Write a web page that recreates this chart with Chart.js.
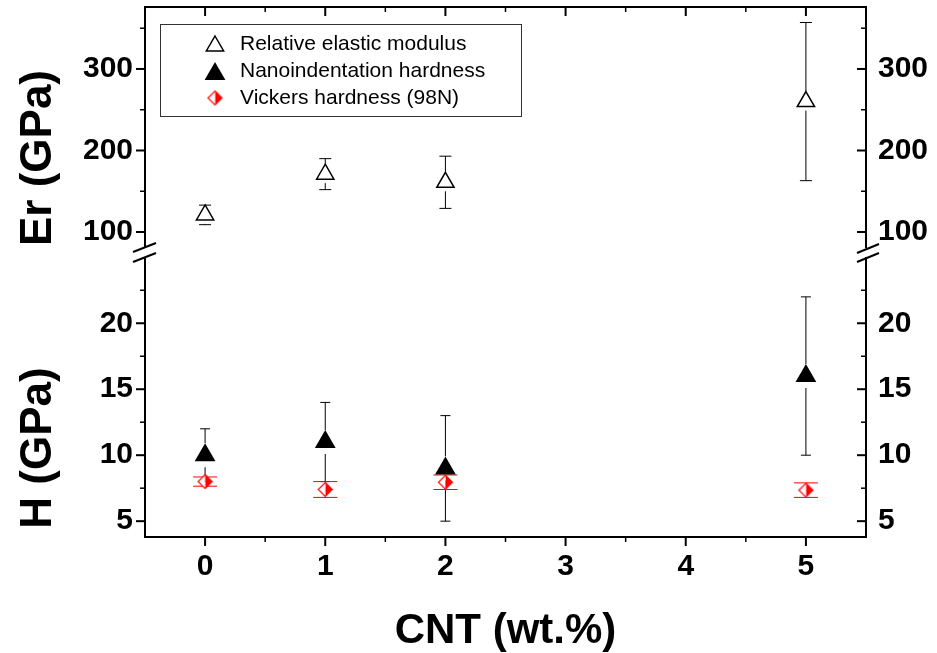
<!DOCTYPE html>
<html>
<head>
<meta charset="utf-8">
<script src="https://cdn.jsdelivr.net/npm/chart.js@4.4.0/dist/chart.umd.min.js"></script>
<style>
  html, body { margin: 0; padding: 0; background: #fff; }
</style>
</head>
<body>
<canvas id="chart" width="937" height="653"></canvas>
<script>
// data
const cnt = [0, 1, 2, 5];
const erValues = [121, 171, 161, 260];
const erErrors = [12, 19, 32, 97];
const hValues = [10, 11, 9, 16];
const hErrors = [2, 3, 4, 6];
const hvValues = [8.0, 7.4, 7.95, 7.35];
const hvErrors = [0.35, 0.6, 0.55, 0.55];

const seriesNames = ['Relative elastic modulus', 'Nanoindentation hardness', 'Vickers hardness (98N)'];
const xTicks = [0, 1, 2, 3, 4, 5];
const xMinor = [0.5, 1.5, 2.5, 3.5, 4.5];
const erTicks = [100, 200, 300];
const erMinor = [150, 250, 350];
const hTicks = [5, 10, 15, 20];
const hMinor = [7.5, 12.5, 17.5, 22.5];

const RED = '#ff0000';
const FONT = '"Liberation Sans", Arial, sans-serif';
const tickFont = { family: FONT, size: 30, weight: 'bold' };

function makeHalfDiamond() {
  const c = document.createElement('canvas');
  c.width = 17; c.height = 17;
  const g = c.getContext('2d');
  const m = 8.5, r = 7;
  g.beginPath(); g.moveTo(m, m - r); g.lineTo(m + r, m); g.lineTo(m, m + r); g.closePath();
  g.fillStyle = RED; g.fill();
  g.beginPath(); g.moveTo(m, m - r); g.lineTo(m - r, m); g.lineTo(m, m + r); g.closePath();
  g.fillStyle = '#fff'; g.fill();
  g.beginPath(); g.moveTo(m, m - r); g.lineTo(m + r, m); g.lineTo(m, m + r); g.lineTo(m - r, m); g.closePath();
  g.strokeStyle = RED; g.lineWidth = 1.2; g.stroke();
  return c;
}
const halfDiamond = makeHalfDiamond();

function line(ctx, x1, y1, x2, y2, w, color) {
  ctx.beginPath();
  ctx.moveTo(x1, y1);
  ctx.lineTo(x2, y2);
  ctx.lineWidth = w;
  ctx.strokeStyle = color || '#000';
  ctx.stroke();
}

function triangle(ctx, cx, cy, r, filled) {
  ctx.beginPath();
  ctx.moveTo(cx, cy - r);
  ctx.lineTo(cx + r * 0.866, cy + r * 0.5);
  ctx.lineTo(cx - r * 0.866, cy + r * 0.5);
  ctx.closePath();
  if (filled) { ctx.fillStyle = '#000'; ctx.fill(); }
  else { ctx.fillStyle = '#fff'; ctx.fill(); ctx.lineWidth = 1.5; ctx.strokeStyle = '#000'; ctx.stroke(); }
}

// error bars: [values, errors, axis id, cap half width, gap above, gap below, colour]
const errorSets = [
  [erValues, erErrors, 'yE', 6, 10, 9, '#000'],
  [hValues, hErrors, 'yH', 5, 12, 12, '#000'],
  [hvValues, hvErrors, 'yH', 12, 7, 7, RED]
];

const decor = {
  id: 'decor',
  beforeDatasetsDraw(chart) {
    const ctx = chart.ctx;
    const x = chart.scales.x;
    ctx.save();
    errorSets.forEach(([vals, errs, axis, cap, up, down, color]) => {
      const y = chart.scales[axis];
      vals.forEach((v, i) => {
        const px = x.getPixelForValue(cnt[i]);
        const py = y.getPixelForValue(v);
        const hi = y.getPixelForValue(v + errs[i]);
        const lo = y.getPixelForValue(v - errs[i]);
        if (hi < py - up) line(ctx, px, hi, px, py - up, 1, color);
        if (lo > py + down) line(ctx, px, py + down, px, lo, 1, color);
        line(ctx, px - cap, hi, px + cap, hi, 1, color);
        line(ctx, px - cap, lo, px + cap, lo, 1, color);
      });
    });
    ctx.restore();
  },
  afterDraw(chart) {
    const ctx = chart.ctx;
    const { left, right, top, bottom } = chart.chartArea;
    const x = chart.scales.x, yE = chart.scales.yE, yH = chart.scales.yH;
    ctx.save();
    // top frame
    line(ctx, left - 1, top, right + 1, top, 2);
    // x ticks: bottom outward, top inward
    xTicks.forEach(v => {
      const p = x.getPixelForValue(v);
      line(ctx, p, bottom, p, bottom + 9, 2);
      line(ctx, p, top, p, top + 9, 2);
    });
    xMinor.forEach(v => {
      const p = x.getPixelForValue(v);
      line(ctx, p, bottom, p, bottom + 5, 1.5);
      line(ctx, p, top, p, top + 5, 1.5);
    });
    // y ticks: left outward, right inward
    [[yE, erTicks, 9, 2], [yE, erMinor, 5, 1.5], [yH, hTicks, 9, 2], [yH, hMinor, 5, 1.5]].forEach(([s, list, len, w]) => {
      list.forEach(v => {
        const p = s.getPixelForValue(v);
        line(ctx, left - len, p, left, p, w);
        line(ctx, right - len, p, right, p, w);
      });
    });
    // axis breaks
    const by = yE.bottom;
    ctx.fillStyle = '#fff';
    ctx.fillRect(left - 3, by - 4, 6, 9);
    ctx.fillRect(right - 3, by - 4, 6, 9);
    line(ctx, left - 12, by, left + 11, by - 9, 2);
    line(ctx, left - 12, by + 10, left + 11, by + 1, 2);
    line(ctx, right - 9, by + 1, right + 13, by - 8, 2);
    line(ctx, right - 9, by + 10, right + 13, by + 1, 2);
    // axis titles
    ctx.fillStyle = '#000';
    ctx.font = 'bold 44px ' + FONT;
    ctx.textAlign = 'center';
    ctx.textBaseline = 'alphabetic';
    [['Er (GPa)', 158], ['H (GPa)', 448]].forEach(([t, cy]) => {
      ctx.save();
      ctx.translate(51, cy);
      ctx.rotate(-Math.PI / 2);
      ctx.fillText(t, 0, 0);
      ctx.restore();
    });
    ctx.font = 'bold 42px ' + FONT;
    ctx.fillText('CNT (wt.%)', (left + right) / 2, 643);
    // legend
    ctx.lineWidth = 1;
    ctx.strokeStyle = '#333';
    ctx.strokeRect(160.5, 24.5, 361, 92);
    triangle(ctx, 215, 46, 10, false);
    triangle(ctx, 215, 74, 12, true);
    ctx.drawImage(halfDiamond, 215 - 8.5, 98 - 8.5);
    ctx.font = '21px ' + FONT;
    ctx.textAlign = 'left';
    ctx.textBaseline = 'middle';
    ctx.fillStyle = '#000';
    seriesNames.forEach((n, i) => ctx.fillText(n, 240, 44 + i * 27));
    ctx.restore();
  }
};

function noPad(s) {
  s.paddingTop = 0; s.paddingBottom = 0; s.paddingLeft = 0; s.paddingRight = 0;
}

function yAxis(pos, stack, weight, min, max, ticks, width) {
  return {
    type: 'linear', position: pos, stack: stack, stackWeight: weight, min: min, max: max,
    afterBuildTicks: s => { s.ticks = ticks.map(v => ({ value: v })); },
    afterFit: s => { s.width = width; noPad(s); },
    ticks: { font: tickFont, color: '#000', padding: 4 },
    grid: { display: false },
    border: { display: true, color: '#000', width: 2 }
  };
}

new Chart(document.getElementById('chart'), {
  type: 'scatter',
  data: {
    datasets: [
      {
        label: seriesNames[0], yAxisID: 'yE',
        data: cnt.map((c, i) => ({ x: c, y: erValues[i] })),
        pointStyle: 'triangle', pointRadius: 10, pointBackgroundColor: '#fff',
        pointBorderColor: '#000', pointBorderWidth: 1.5
      },
      {
        label: seriesNames[1], yAxisID: 'yH',
        data: cnt.map((c, i) => ({ x: c, y: hValues[i] })),
        pointStyle: 'triangle', pointRadius: 12, pointBackgroundColor: '#000',
        pointBorderColor: '#000', pointBorderWidth: 0
      },
      {
        label: seriesNames[2], yAxisID: 'yH',
        data: cnt.map((c, i) => ({ x: c, y: hvValues[i] })),
        pointStyle: halfDiamond, pointRadius: 8
      }
    ]
  },
  options: {
    responsive: false,
    devicePixelRatio: 1,
    animation: false,
    layout: { autoPadding: false, padding: { top: 7, left: 0, right: 0, bottom: 0 } },
    plugins: { legend: { display: false }, tooltip: { enabled: false } },
    scales: {
      x: {
        type: 'linear', position: 'bottom', min: -0.5, max: 5.5,
        afterBuildTicks: s => { s.ticks = xTicks.map(v => ({ value: v })); },
        afterFit: s => { s.height = 116; noPad(s); },
        ticks: { font: tickFont, color: '#000', padding: 4 },
        grid: { display: false },
        border: { display: true, color: '#000', width: 2 }
      },
      yH: yAxis('left', 'left', 285, 3.8, 25.4, hTicks, 145),
      yE: yAxis('left', 'left', 245, 75.5, 376, erTicks, 145),
      yEr: yAxis('right', 'right', 245, 75.5, 376, erTicks, 71),
      yHr: yAxis('right', 'right', 285, 3.8, 25.4, hTicks, 71)
    }
  },
  plugins: [decor]
});
</script>
</body>
</html>
